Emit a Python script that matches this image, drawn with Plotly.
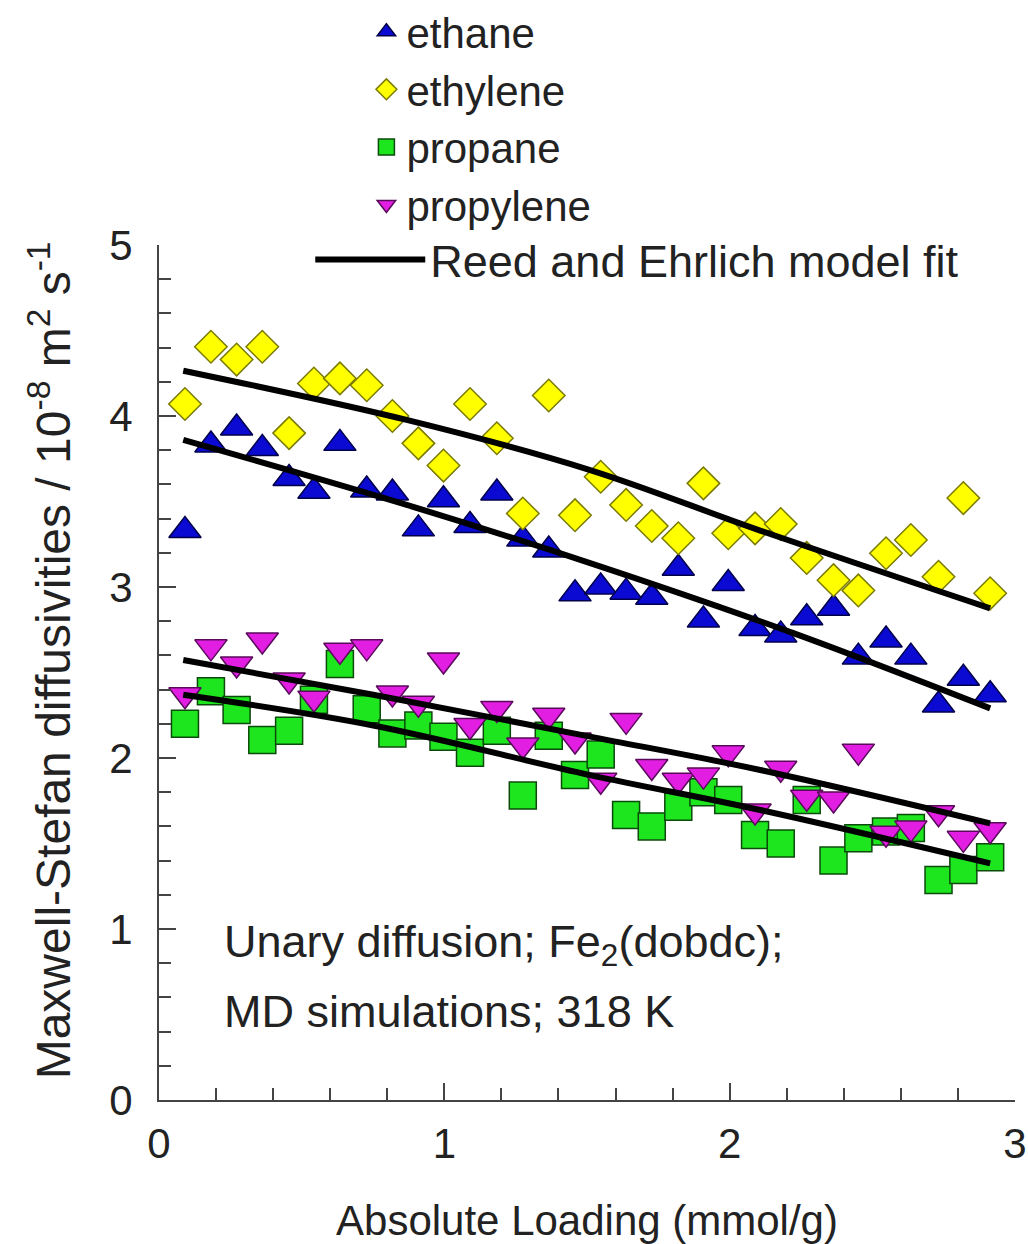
import plotly.graph_objects as go

# ---- data ----
loading = [0.091, 0.182, 0.272, 0.362, 0.456, 0.543, 0.634, 0.728, 0.818, 0.909,
           0.997, 1.090, 1.184, 1.275, 1.366, 1.458, 1.548, 1.637, 1.727, 1.820,
           1.908, 1.995, 2.089, 2.179, 2.270, 2.364, 2.451, 2.548, 2.635, 2.732,
           2.819, 2.913]

ethane = [3.33, 3.83, 3.93, 3.81, 3.635, 3.56, 3.84, 3.567, 3.55, 3.34,
          3.51, 3.36, 3.55, 3.28, 3.216, 2.96, 3.00, 2.97, 2.94, 3.11,
          2.807, 3.02, 2.757, 2.72, 2.82, 2.876, 2.59, 2.69, 2.59, 2.31,
          2.466, 2.37]

ethylene = [4.07, 4.405, 4.33, 4.405, 3.90, 4.19, 4.22, 4.18, 4.00, 3.84,
            3.71, 4.07, 3.87, 3.43, 4.12, 3.42, 3.645, 3.48, 3.357, 3.285,
            3.606, 3.314, 3.343, 3.368, 3.17, 3.04, 2.98, 3.197, 3.275, 3.06,
            3.52, 2.963]

propane = [2.20, 2.39, 2.28, 2.105, 2.16, 2.34, 2.55, 2.285, 2.144, 2.19,
           2.125, 2.03, 2.16, 1.78, 2.13, 1.90, 2.02, 1.667, 1.60, 1.715,
           1.80, 1.754, 1.55, 1.50, 1.754, 1.40, 1.53, 1.57, 1.59, 1.287,
           1.345, 1.42]

propylene = [2.37, 2.65, 2.55, 2.69, 2.456, 2.35, 2.63, 2.65, 2.38, 2.32,
             2.573, 2.19, 2.29, 2.076, 2.25, 2.105, 1.87, 2.22, 1.95, 1.87,
             1.90, 2.03, 1.69, 1.94, 1.77, 1.76, 2.04, 1.56, 1.59, 1.68,
             1.53, 1.58]

# Reed and Ehrlich model fits
fit_ethylene_x = [0.085, 0.868, 1.511, 2.107, 2.913]
fit_ethylene_y = [4.265, 3.977, 3.684, 3.33, 2.875]
fit_ethane_x = [0.085, 0.868, 1.511, 2.223, 2.913]
fit_ethane_y = [3.86, 3.48, 3.14, 2.73, 2.29]
fit_propylene_x = [0.085, 0.751, 1.511, 2.107, 2.913]
fit_propylene_y = [2.573, 2.37, 2.125, 1.93, 1.618]
fit_propane_x = [0.085, 0.751, 1.511, 2.107, 2.913]
fit_propane_y = [2.37, 2.19, 1.90, 1.696, 1.384]

x_ticks = [0, 1, 2, 3]
y_ticks = [0, 1, 2, 3, 4, 5]

FONT = "Liberation Sans, Arial, sans-serif"
TXT = "#222222"
AXC = "#444444"

fig = go.Figure()

series = [
    ("ethane", ethane, "triangle-up", 28, "#0a0ad2", "#00004a"),
    ("ethylene", ethylene, "diamond", 25, "#ffff00", "#7a7a00"),
    ("propane", propane, "square", 27, "#1ee61e", "#0b4a0b"),
    ("propylene", propylene, "triangle-down", 28, "#e21ee2", "#5a0a5a"),
]
for name, vals, sym, size, fill, edge in series:
    fig.add_trace(go.Scatter(
        x=loading, y=vals, mode="markers", name=name, legend="legend",
        marker=dict(symbol=sym, size=size, color=fill,
                    line=dict(color=edge, width=1.5)),
    ))

fits = [
    (fit_ethylene_x, fit_ethylene_y, True),
    (fit_ethane_x, fit_ethane_y, False),
    (fit_propylene_x, fit_propylene_y, False),
    (fit_propane_x, fit_propane_y, False),
]
for fx, fy, show in fits:
    fig.add_trace(go.Scatter(
        x=fx, y=fy, mode="lines", name="Reed and Ehrlich model fit",
        legend="legend2", showlegend=show,
        line=dict(color="black", width=6, shape="spline", smoothing=1.0),
    ))

fig.add_annotation(x=0.22, y=0.91, xref="x", yref="y", xanchor="left",
                   yanchor="middle", showarrow=False,
                   text="Unary diffusion; Fe<sub>2</sub>(dobdc);",
                   font=dict(family=FONT, size=45, color=TXT))
fig.add_annotation(x=0.22, y=0.515, xref="x", yref="y", xanchor="left",
                   yanchor="middle", showarrow=False,
                   text="MD simulations; 318 K",
                   font=dict(family=FONT, size=45, color=TXT))

# y-axis title (placed as a rotated annotation to match the reference position)
fig.add_annotation(x=-0.127, y=0.5146, xref="paper", yref="paper",
                   xanchor="center", yanchor="middle", showarrow=False,
                   textangle=-90,
                   text="Maxwell-Stefan diffusivities / 10<sup>-8</sup> m<sup>2</sup> s<sup>-1</sup>",
                   font=dict(family=FONT, size=48, color=TXT))

axis_common = dict(
    showline=True, linecolor=AXC, linewidth=2, showgrid=False, zeroline=False,
    ticks="inside", ticklen=17, tickwidth=2, tickcolor=AXC,
    tickfont=dict(family=FONT, size=42, color=TXT),
    mirror=False,
)

fig.update_xaxes(
    range=[0, 3], tickvals=x_ticks, ticklabelstandoff=6,
    minor=dict(dtick=0.2, ticks="inside", ticklen=12, tickwidth=1.5,
               tickcolor=AXC, showgrid=False),
    title=dict(text="Absolute Loading (mmol/g)", standoff=39,
               font=dict(family=FONT, size=42, color=TXT)),
    **axis_common,
)
fig.update_yaxes(
    range=[0, 5], tickvals=y_ticks, ticklabelstandoff=16,
    minor=dict(dtick=0.2, ticks="inside", ticklen=12, tickwidth=1.5,
               tickcolor=AXC, showgrid=False),
    **axis_common,
)

fig.update_layout(
    width=1028, height=1244,
    margin=dict(l=159, r=13, t=245, b=144, autoexpand=False),
    plot_bgcolor="white", paper_bgcolor="white",
    font=dict(family=FONT, color=TXT),
    legend=dict(x=0.2423, y=1.289, xanchor="left", yanchor="top",
                bgcolor="rgba(0,0,0,0)", font=dict(family=FONT, size=42, color=TXT),
                itemsizing="trace", tracegroupgap=0),
    legend2=dict(x=0.1767, y=1.025, xanchor="left", yanchor="top",
                 bgcolor="rgba(0,0,0,0)", itemwidth=110,
                 font=dict(family=FONT, size=45, color=TXT)),
)

# remove the default page margin so the figure fills the window exactly
fig.write_html("out.html",
               config={"displayModeBar": False},
               post_script="document.body.style.margin='0';"
                           "document.body.style.overflow='hidden';")
